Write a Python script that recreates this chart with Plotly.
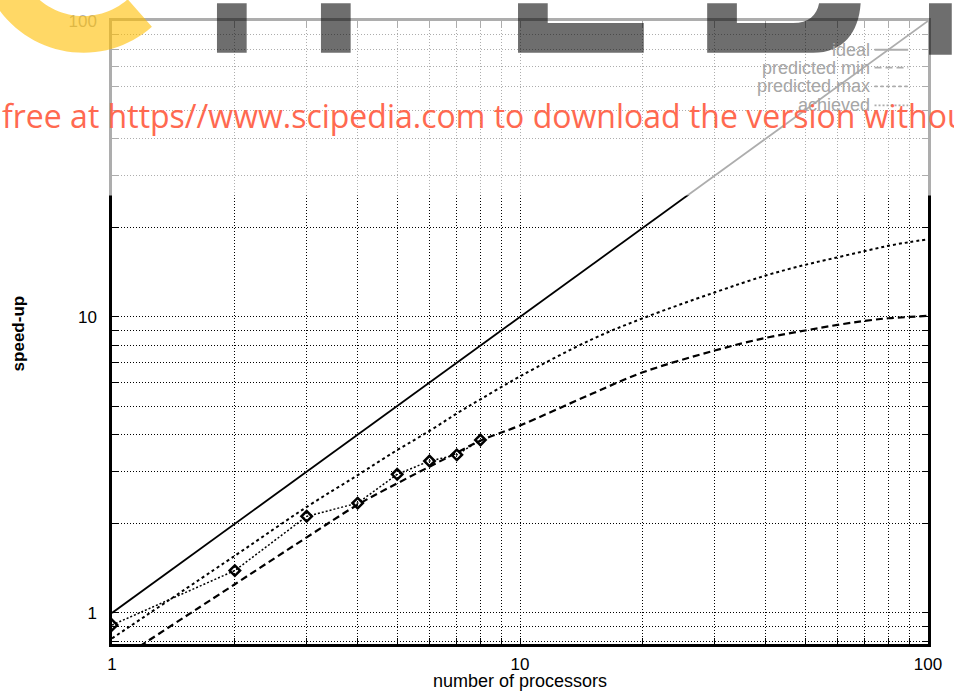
import math
import plotly.graph_objects as go

# ---------------- data ----------------
procs = [1, 2, 3, 4, 5, 6, 7, 8, 10, 15, 20, 30, 40, 50, 60, 70, 80, 90, 100]
ideal_x = [1, 100]
ideal_y = [1, 100]
pred_min = [0.67, 1.25, 1.80, 2.32, 2.74, 3.12, 3.48, 3.82, 4.3, 5.5, 6.5, 7.7, 8.5, 9.0, 9.4, 9.7, 9.9, 10.0, 10.1]
pred_max = [0.82, 1.56, 2.28, 2.92, 3.55, 4.12, 4.72, 5.27, 6.3, 8.4, 9.9, 12.1, 13.8, 15.0, 15.9, 16.7, 17.4, 17.9, 18.3]
achieved_x = [1, 2, 3, 4, 5, 6, 7, 8]
achieved_y = [0.91, 1.39, 2.12, 2.35, 2.94, 3.26, 3.42, 3.84]

x_tickvals = [1, 2, 3, 4, 5, 6, 7, 8, 9, 10, 20, 30, 40, 50, 60, 70, 80, 90, 100]
x_ticktext = ["1"] + [""] * 8 + ["10"] + [""] * 8 + ["100"]
y_tickvals = [0.8, 0.9, 1, 2, 3, 4, 5, 6, 7, 8, 9, 10, 20, 30, 40, 50, 60, 70, 80, 90, 100]
y_ticktext = ["", "", "1"] + [""] * 8 + ["10"] + [""] * 8 + ["100"]

legend_names = ["ideal", "predicted min", "predicted max", "achieved"]
watermark_text = "free at https//www.scipedia.com to download the version without"

# ---------------- geometry helpers (pixel -> paper) ----------------
W, H = 954, 691
ML, MR, MT, MB = 112, 18, 16, 47
PW = W - ML - MR
PH = H - MT - MB


def px(x):
    return (x - ML) / PW


def py(y):
    return (H - MB - y) / PH


def path_from(cmds):
    out = []
    for c in cmds:
        if isinstance(c, str):
            out.append(c)
        else:
            out.append(f"{px(c[0]):.5f},{py(c[1]):.5f}")
    return " ".join(out)


FONT = "Liberation Sans, Arial, sans-serif"

fig = go.Figure()

fig.add_trace(go.Scatter(x=ideal_x, y=ideal_y, mode="lines", name="ideal",
                         line=dict(color="black", width=1.8), showlegend=False))
fig.add_trace(go.Scatter(x=procs, y=pred_min, mode="lines", name="predicted min",
                         line=dict(color="black", width=2.2, dash="7px,4px", shape="spline"),
                         showlegend=False))
fig.add_trace(go.Scatter(x=procs, y=pred_max, mode="lines", name="predicted max",
                         line=dict(color="black", width=2, dash="3px,3px", shape="spline"),
                         showlegend=False))
fig.add_trace(go.Scatter(x=achieved_x, y=achieved_y, mode="lines+markers", name="achieved",
                         line=dict(color="black", width=1.5, dash="2px,2px"),
                         marker=dict(symbol="diamond-open", size=8, color="black",
                                     line=dict(width=2.5, color="black")),
                         showlegend=False))

axis_common = dict(
    type="log", showline=True, linewidth=2.5, linecolor="black", mirror="all",
    ticks="inside", ticklen=6, tickwidth=1.2, tickcolor="black",
    showgrid=True, gridcolor="black", gridwidth=1, griddash="1px,2px",
    zeroline=False, tickfont=dict(family=FONT, size=17, color="black"),
)

fig.update_xaxes(range=[0, 2], tickmode="array", tickvals=x_tickvals, ticktext=x_ticktext,
                 ticklabelstandoff=3, **axis_common)
fig.update_yaxes(range=[-0.105, 2], tickmode="array", tickvals=y_tickvals, ticktext=y_ticktext,
                 ticklabelstandoff=9, **axis_common)

shapes = []
# legend samples
leg_y = [45, 63, 82, 101]
leg_dash = ["solid", "7px,4px", "3px,3px", "2px,2px"]
for yy, dd in zip(leg_y, leg_dash):
    shapes.append(dict(type="line", xref="paper", yref="paper", x0=px(882), x1=px(916),
                       y0=py(yy), y1=py(yy), line=dict(color="black", width=1.8, dash=dd),
                       layer="above"))
# faded top band
shapes.append(dict(type="rect", xref="paper", yref="paper", x0=px(0), x1=px(W),
                   y0=py(192), y1=py(0), fillcolor="rgba(255,255,255,0.68)",
                   line=dict(width=0), layer="above"))
# grey watermark letters
grey = "rgba(0,0,0,0.57)"
for x0, x1, y1 in [(218, 248, 48), (323, 353, 48), (937, 960, 50)]:
    shapes.append(dict(type="rect", xref="paper", yref="paper", x0=px(x0), x1=px(x1),
                       y0=py(y1), y1=py(-2), fillcolor=grey, line=dict(width=0), layer="above"))
shapes.append(dict(type="path", xref="paper", yref="paper", fillcolor=grey,
                   line=dict(width=0), layer="above",
                   path=path_from(["M", (522, -2), "L", (552, -2), "L", (552, 18), "L", (649, 18),
                                   "L", (649, 48), "L", (522, 48), "Z"])))
shapes.append(dict(type="path", xref="paper", yref="paper", fillcolor=grey,
                   line=dict(width=0), layer="above",
                   path=path_from(["M", (713, -2), "L", (713, 48), "L", (820, 48),
                                   "C", (850, 48), (866, 28), (868, -2),
                                   "L", (826, -2), "C", (824, 10), (815, 18), (800, 18),
                                   "L", (743, 18), "L", (743, -2), "Z"])))
# orange ring segment
cx, cy, Ro, Ri = 83, -57, 105, 68
a0, a1 = 48.7, 175
n = 40
outer = [(cx + Ro * math.cos(math.radians(a0 + (a1 - a0) * i / n)),
          cy + Ro * math.sin(math.radians(a0 + (a1 - a0) * i / n))) for i in range(n + 1)]
inner = [(cx + Ri * math.cos(math.radians(a1 - (a1 - a0) * i / n)),
          cy + Ri * math.sin(math.radians(a1 - (a1 - a0) * i / n))) for i in range(n + 1)]
cmds = ["M", outer[0]]
for p in outer[1:] + inner:
    cmds += ["L", p]
cmds.append("Z")
shapes.append(dict(type="path", xref="paper", yref="paper", fillcolor="rgba(255,190,0,0.6)",
                   line=dict(width=0), layer="above", path=path_from(cmds)))

annotations = []
for name, yy in zip(legend_names, leg_y):
    annotations.append(dict(text=name, xref="paper", yref="paper", x=px(879), y=py(yy),
                            xanchor="right", yanchor="middle", showarrow=False,
                            font=dict(family=FONT, size=18, color="#a6a6a6")))
annotations.append(dict(text="speed-up", xref="paper", yref="paper", x=px(18), y=py(331),
                        xanchor="center", yanchor="middle", textangle=-90, showarrow=False,
                        font=dict(family=FONT, size=17, color="black", weight="bold")))
annotations.append(dict(text="number of processors", xref="paper", yref="paper", x=0.5,
                        y=py(681), xanchor="center", yanchor="middle", showarrow=False,
                        font=dict(family=FONT, size=18, color="black")))
annotations.append(dict(text=watermark_text, xref="paper", yref="paper", x=px(-1), y=py(111),
                        xanchor="left", yanchor="middle", showarrow=False,
                        font=dict(family="Open Sans, sans-serif", size=32,
                                  color="rgb(255,105,80)")))

fig.update_layout(
    width=W, height=H, autosize=False,
    margin=dict(l=ML, r=MR, t=MT, b=MB, pad=0),
    paper_bgcolor="white", plot_bgcolor="white",
    showlegend=False, shapes=shapes, annotations=annotations,
)

fig.write_html("out.html", config={"displayModeBar": False},
               post_script="document.body.style.margin='0';")
